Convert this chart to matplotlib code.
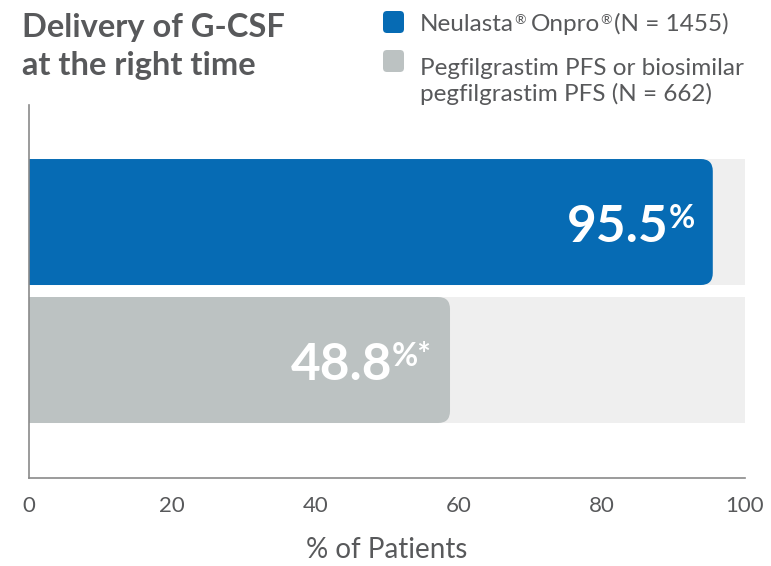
import matplotlib
matplotlib.use("Agg")
import matplotlib.pyplot as plt
from matplotlib.patches import FancyBboxPatch

# ---------------- data ----------------
categories = ["Neulasta® Onpro® (N = 1455)",
              "Pegfilgrastim PFS or biosimilar\npegfilgrastim PFS (N = 662)"]
bar_values = [95.5, 58.8]          # bar lengths as drawn in the picture
value_labels = ["95.5", "48.8"]
label_suffix = ["%", "%*"]
xticks = [0, 20, 40, 60, 80, 100]
xlabel = "% of Patients"
title_lines = ["Delivery of G-CSF", "at the right time"]

# ---------------- style ----------------
BLUE = "#066bb4"
GRAY = "#bcc2c2"
TRACK = "#efefef"
TEXT = "#58595b"
FONT = "Lato"
plt.rcParams["font.family"] = [FONT, "DejaVu Sans"]

W, H = 771, 566
fig = plt.figure(figsize=(W / 100, H / 100), dpi=100)
ax = fig.add_axes([29 / W, 1 - 478 / H, (745 - 29) / W, (478 - 105) / H])

ypos = [0, 1]
ax.set_xlim(0, 100)
ax.set_ylim(1.855, -0.848)
bh = 0.913
ax.barh(ypos, [100] * len(ypos), height=bh, color=TRACK, zorder=1)
bars = ax.barh(ypos, bar_values, height=bh, color=[BLUE, GRAY], zorder=2)

# rounded right corners
xpp = 100 / (745 - 29)
ypp = (1.855 + 0.848) / (478 - 105)
for b in bars:
    x, y, w, h = b.get_x(), b.get_y(), b.get_width(), b.get_height()
    fc = b.get_facecolor()
    b.remove()
    p = FancyBboxPatch((x - 4, y), w + 4, h,
                       boxstyle=f"round,pad=0,rounding_size={12 * xpp}",
                       mutation_aspect=ypp / xpp, fc=fc, ec="none", zorder=2)
    ax.add_patch(p)

# axes styling
for s in ["top", "right"]:
    ax.spines[s].set_visible(False)
for s in ["left", "bottom"]:
    ax.spines[s].set_color("#8a8a8a")
    ax.spines[s].set_linewidth(1.2)
ax.set_yticks([])
ax.set_xticks(xticks)
ax.set_xticklabels([str(t) for t in xticks])
ax.tick_params(axis="x", length=0, pad=13, labelsize=16, labelcolor=TEXT)
ax.set_xlabel(xlabel, fontsize=20, color=TEXT, labelpad=15)

# title
fig.text(22 / W, 1 - 37 / H, title_lines[0], fontsize=23.5, fontweight="bold",
         color=TEXT, va="baseline", ha="left")
fig.text(22 / W, 1 - 75 / H, title_lines[1], fontsize=23.5, fontweight="bold",
         color=TEXT, va="baseline", ha="left")

# legend swatches
for (yt, col) in [(11, BLUE), (50, GRAY)]:
    sw = FancyBboxPatch((383 / W, 1 - (yt + 22) / H), 21 / W, 22 / H,
                        boxstyle=f"round,pad=0,rounding_size={4 / W}",
                        mutation_aspect=W / H, transform=fig.transFigure,
                        fc=col, ec="none")
    fig.add_artist(sw)

fig.canvas.draw()
renderer = fig.canvas.get_renderer()


def put_parts(parts, x_px, base_px):
    """parts: list of (text, size, raise_px, gap_after_px)"""
    x = x_px
    for txt, size, rz, gap in parts:
        t = fig.text(x / W, 1 - (base_px - rz) / H, txt, fontsize=size,
                     color=TEXT, va="baseline", ha="left")
        bb = t.get_window_extent(renderer)
        x = bb.x1 + gap


LS = 17.5
leg1 = categories[0].split("®")
put_parts([(leg1[0], LS, 0, 0), ("®", 10, 7, 5), (leg1[1].strip(), LS, 0, 0),
           ("®", 10, 7, 3), (leg1[2].strip(), LS, 0, 0)], 420, 31)
leg2 = categories[1].split("\n")
fig.text(420 / W, 1 - 75 / H, leg2[0], fontsize=LS, color=TEXT, va="baseline")
fig.text(420 / W, 1 - 101 / H, leg2[1], fontsize=LS, color=TEXT, va="baseline")

# value labels
for v, yp, lab, suf in zip(bar_values, ypos, value_labels, label_suffix):
    xd, yd = ax.transData.transform((v, yp))
    st = ax.annotate(suf, xy=(xd - 18, yd + 18), xycoords="figure pixels",
                     ha="right", va="top", fontsize=23, fontweight="bold",
                     color="white", zorder=5)
    bb = st.get_window_extent(renderer)
    ax.annotate(lab, xy=(bb.x0, yd - 19.5), xycoords="figure pixels",
                ha="right", va="baseline", fontsize=37, fontweight="bold",
                color="white", zorder=5)

fig.savefig("out.png", dpi=100)
